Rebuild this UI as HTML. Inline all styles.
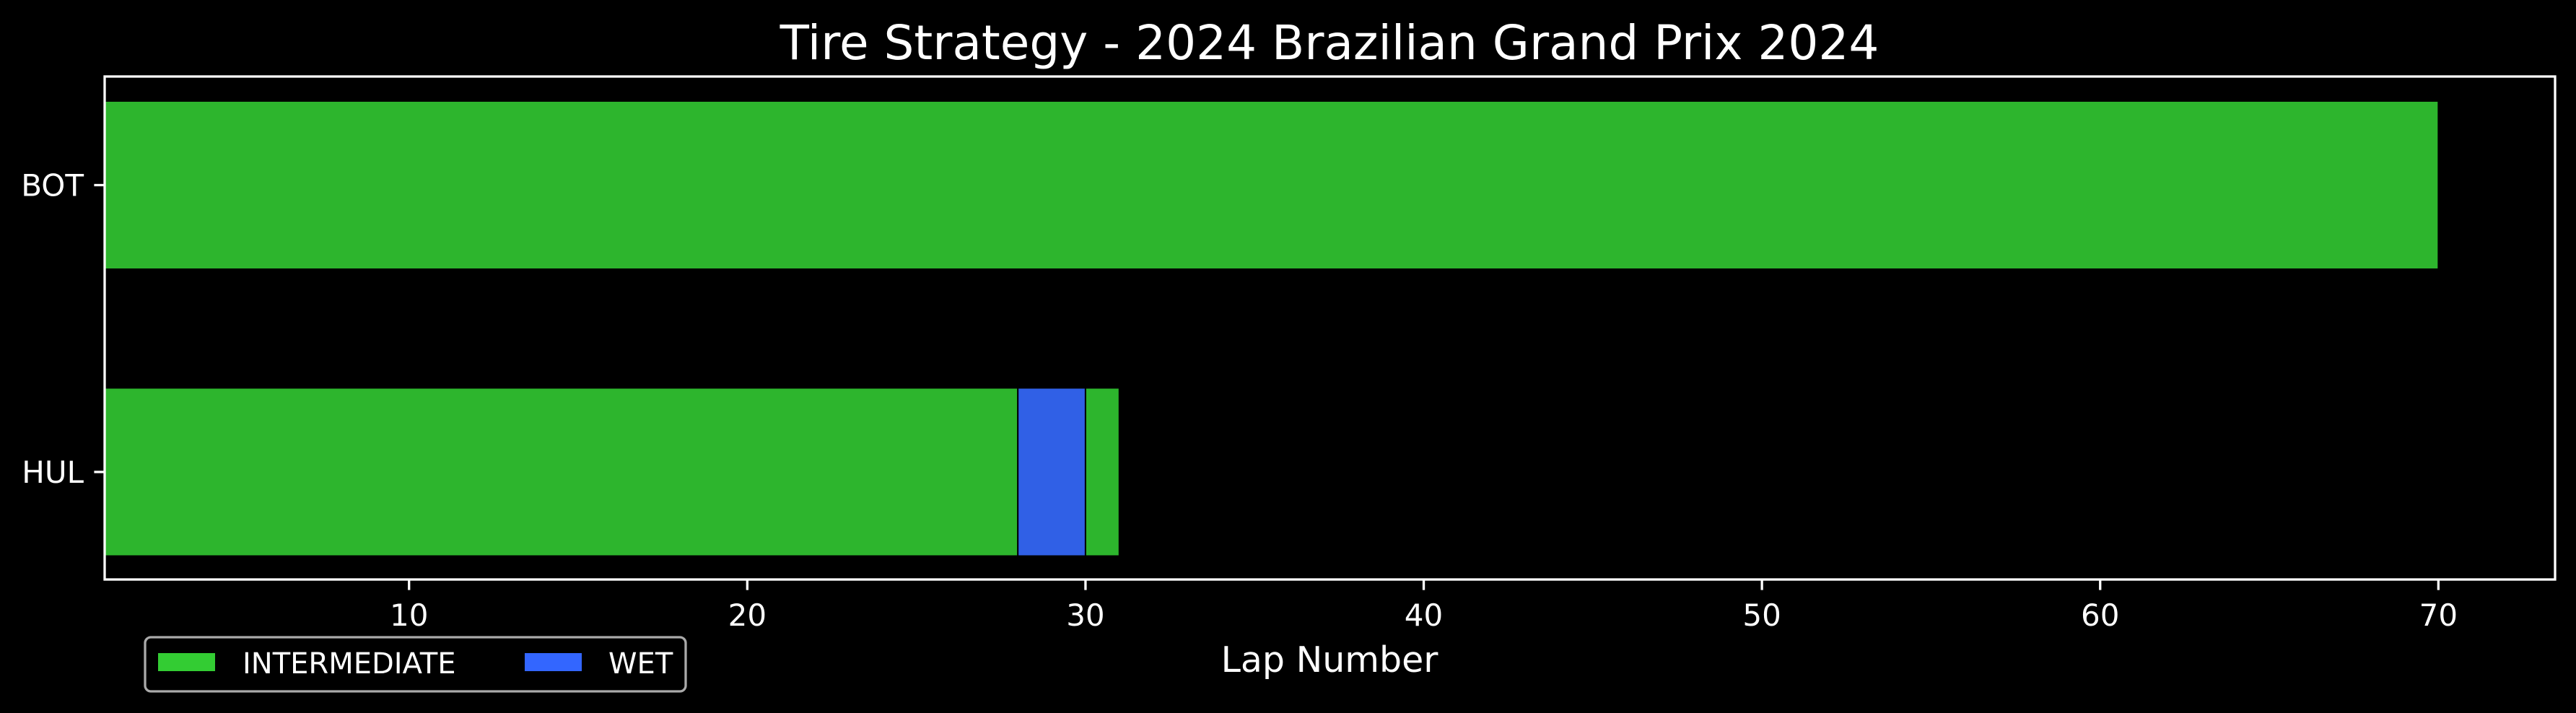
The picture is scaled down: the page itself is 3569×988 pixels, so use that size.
<!DOCTYPE html>
<html><head><meta charset="utf-8"><style>
html,body{margin:0;padding:0;background:#000;}
svg{display:block;font-family:"DejaVu Sans","Liberation Sans",sans-serif;}
</style></head><body>
<svg id="chart" width="3569" height="988" viewBox="0 0 3569 988" xmlns="http://www.w3.org/2000/svg">
<rect x="0" y="0" width="3569" height="988" fill="#000"/>
<text x="1842" y="82" font-size="66" fill="#fff" text-anchor="middle">Tire Strategy - 2024 Brazilian Grand Prix 2024</text>
<g id="marks"></g>
<rect x="145" y="106" width="3395" height="697" fill="none" stroke="#fff" stroke-width="3.3"/>
<g id="axes"></g>
<text x="1842" y="931" font-size="49" fill="#fff" text-anchor="middle">Lap Number</text>
<g>
<rect x="201" y="883" width="749" height="75" rx="8" fill="#000" stroke="#aaa" stroke-width="3.3"/>
<rect x="219" y="905" width="79" height="25" fill="#33cc33"/>
<text x="336" y="933" font-size="40" fill="#fff">INTERMEDIATE</text>
<rect x="727" y="905" width="79" height="25" fill="#3366ff"/>
<text x="843" y="933" font-size="40" fill="#fff">WET</text>
</g>
</svg>
<script>
const drivers = ["BOT", "HUL"];
const stintDriver = ["BOT", "HUL", "HUL", "HUL"];
const stintStart = [1, 1, 28, 30];
const stintEnd = [70, 28, 30, 31];
const stintCompound = ["INTERMEDIATE", "INTERMEDIATE", "WET", "INTERMEDIATE"];
const xTicks = [10, 20, 30, 40, 50, 60, 70];
const compoundColors = {INTERMEDIATE: "#2db52d", WET: "#3060e6"};

const NS = "http://www.w3.org/2000/svg";
const X0 = 145, X1 = 3540, Y0 = 106, Y1 = 803;
const xMin = 1.0, xMax = 73.45;
function xs(v){ return X0 + (v - xMin) / (xMax - xMin) * (X1 - X0); }
function ys(i){ return 256.5 + i * 397.5; }
const barH = 233;

const marks = document.getElementById("marks");
for (let k = 0; k < stintStart.length; k++) {
  const i = drivers.indexOf(stintDriver[k]);
  const r = document.createElementNS(NS, "rect");
  r.setAttribute("x", xs(stintStart[k]));
  r.setAttribute("y", ys(i) - barH / 2);
  r.setAttribute("width", xs(stintEnd[k]) - xs(stintStart[k]));
  r.setAttribute("height", barH);
  r.setAttribute("fill", compoundColors[stintCompound[k]]);
  r.setAttribute("stroke", "#000");
  r.setAttribute("stroke-width", "2");
  
  
  marks.appendChild(r);
}

const axes = document.getElementById("axes");
xTicks.forEach(t => {
  const x = xs(t);
  const l = document.createElementNS(NS, "line");
  l.setAttribute("x1", x); l.setAttribute("x2", x);
  l.setAttribute("y1", Y1); l.setAttribute("y2", Y1 + 14.6);
  l.setAttribute("stroke", "#fff"); l.setAttribute("stroke-width", "3.3");
  
  
  axes.appendChild(l);
  const tx = document.createElementNS(NS, "text");
  tx.setAttribute("x", x); tx.setAttribute("y", 867);
  tx.setAttribute("font-size", "42"); tx.setAttribute("fill", "#fff");
  tx.setAttribute("text-anchor", "middle");
  tx.textContent = t;
  
  
  axes.appendChild(tx);
});
drivers.forEach((d, i) => {
  const y = ys(i);
  const l = document.createElementNS(NS, "line");
  l.setAttribute("x1", X0 - 14.6); l.setAttribute("x2", X0);
  l.setAttribute("y1", y); l.setAttribute("y2", y);
  l.setAttribute("stroke", "#fff"); l.setAttribute("stroke-width", "3.3");
  
  
  axes.appendChild(l);
  const tx = document.createElementNS(NS, "text");
  tx.setAttribute("x", 116); tx.setAttribute("y", y + 15);
  tx.setAttribute("font-size", "42"); tx.setAttribute("fill", "#fff");
  tx.setAttribute("text-anchor", "end");
  tx.textContent = d;
  
  
  axes.appendChild(tx);
});
</script>
</body></html>
